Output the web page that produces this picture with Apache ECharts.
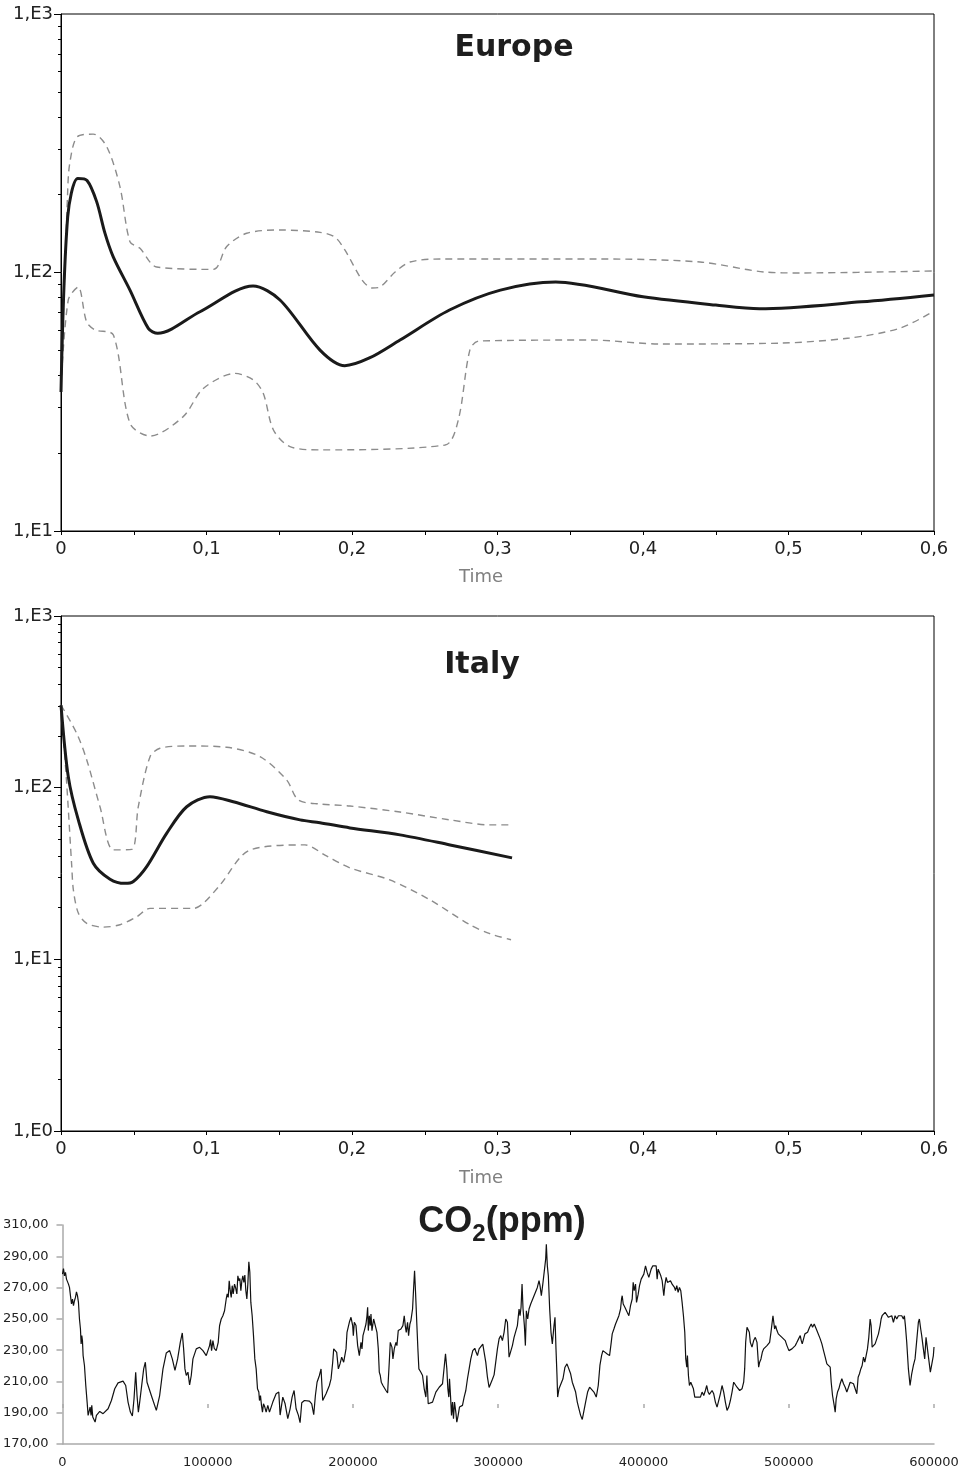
<!DOCTYPE html>
<html>
<head>
<meta charset="utf-8">
<script src="https://cdn.jsdelivr.net/npm/echarts@6/dist/echarts.min.js"></script>
<style>
  html, body { margin: 0; padding: 0; background: #fff; }
  #chart { width: 962px; height: 1472px; }
</style>
</head>
<body>
<div id="chart"></div>
<script>
// Europe: [time, value]
const europeMean = [[0,34.5],[0.0046,164],[0.0115,231],[0.0179,227],[0.0245,188],[0.0302,142],[0.0359,115],[0.0474,85.5],[0.06,60.8],[0.0665,58.2],[0.0955,70.5],[0.132,88.7],[0.1505,78.3],[0.178,50.1],[0.195,43.6],[0.212,46.7],[0.233,54.8],[0.267,71.6],[0.302,85.5],[0.34,91.9],[0.4,80.5],[0.45,74.8],[0.48,72.4],[0.55,77],[0.6,81.9]];
const europeUpper = [[0,36],[0.0045,200],[0.006,264],[0.0112,335],[0.0222,343],[0.0314,307],[0.0405,215],[0.0474,131.5],[0.0543,124],[0.0658,105],[0.1047,102.8],[0.1139,126],[0.1276,141.8],[0.1505,146],[0.178,143],[0.1883,137],[0.1952,122],[0.2069,93.6],[0.2137,87.1],[0.2192,87.9],[0.2296,100.4],[0.2399,109.8],[0.2605,112.8],[0.3704,112.8],[0.4392,109.8],[0.4838,100.4],[0.5079,99.6],[0.6,101.4]];
const europeLower = [[0,36],[0.005,78.3],[0.0118,87.9],[0.0176,64.4],[0.0234,60],[0.036,57.3],[0.0474,26.1],[0.0612,23.3],[0.084,27.7],[0.0978,35.6],[0.1196,40.7],[0.1322,38.4],[0.139,34.1],[0.146,24.6],[0.1574,21.2],[0.178,20.6],[0.264,21.5],[0.273,26.8],[0.281,50.1],[0.287,54.3],[0.364,54.8],[0.412,52.9],[0.494,53.3],[0.542,55.8],[0.577,61],[0.6,71]];

// Italy: [time, value]
const italyMean = [[0,303],[0.005,116],[0.0119,64.9],[0.0222,36.3],[0.0337,29.3],[0.044,27.7],[0.0497,28.4],[0.0589,34.7],[0.0726,54.2],[0.0864,77.4],[0.1024,88.6],[0.1184,82.8],[0.1414,72.4],[0.1643,64.9],[0.178,62.5],[0.1986,58.3],[0.233,53.1],[0.2674,46.4],[0.31,39]];
const italyUpper = [[0,303],[0.0108,207],[0.0177,145],[0.0268,77.4],[0.036,43.4],[0.0486,43.7],[0.0531,77.4],[0.0612,151.6],[0.068,169.6],[0.0864,175],[0.1139,171.9],[0.1368,151.6],[0.1551,110.9],[0.1631,84.8],[0.178,80.3],[0.1986,78.2],[0.233,72.1],[0.2674,64.9],[0.2948,60.7],[0.3093,60.7]];
const italyLower = [[0,303],[0.0039,106],[0.0074,34.7],[0.0085,25.4],[0.0119,18.6],[0.0177,16.2],[0.0291,15.4],[0.0405,15.9],[0.052,17.7],[0.0612,19.8],[0.091,19.8],[0.0978,21.2],[0.1093,27.1],[0.13,43.4],[0.1677,46.4],[0.1814,40.5],[0.1986,34.1],[0.226,29],[0.2536,22.2],[0.2811,15.9],[0.2948,14.1],[0.3093,13]];

// CO2 (ppm) against years
const co2Year = [0,687,1375,2062,2749,3437,4124,4811,5498,6186,6873,7560,8248,8935,9622,10310,10997,11684,12371,12830,13288,13746,14204,15121,16037,16953,17641,18328,19015,19703,20161,20848,21765,22452,23368,25659,27950,29096,31387,33678,35969,38260,41696,43529,45133,46736,48111,49257,50402,51318,52235,53151,55900,57046,58191,61170,64606,66897,69188,71479,73770,75603,77436,79269,81101,82476,83392,84309,85225,86371,87516,88662,89807,92098,94389,96680,98971,100346,101262,101949,102637,103553,104470,105844,107219,108135,109281,110426,111572,112717,113404,114092,114779,115466,116154,116841,117528,118445,119132,120048,120736,121423,122110,122798,123485,124172,124860,125547,126234,126921,127609,128296,128983,129671,130587,131503,132420,133336,134253,135169,135627,136314,137002,137689,138376,139293,140209,141355,142500,144791,147082,148915,149831,
151665,153268,155101,156705,158079,159454,160829,162432,163578,164723,166556,169993,171596,172971,174116,175262,176866,178011,179157,181448,183739,184884,186030,186717,187862,188779,189924,191070,192215,193590,195194,195881,197485,198630,199776,200234,200921,202067,203212,204358,205503,206190,206878,207794,208940,209627,210085,210543,211231,211918,212376,213063,214209,215354,216500,217416,218104,218791,219478,220624,222686,223831,224977,225664,226810,227497,228413,229559,230246,231163,232996,234370,235287,235974,236661,237577,238265,239181,239868,241014,241701,242388,243076,243992,244679,245366,246741,247887,249032,250178,250865,251781,253156,254760,255905,257051,258196,259342,260487,261633,262778,263695,264611,265298,265986,266444,267131,267818,268506,269193,269880,270797,271484,272400,273317,274233,275379,276524,277670,278815,279961,281106,282481,283855,284772,285688,286834,287979,289354,290270,291416,292561,293707,294852,295998,297143,298289,
299434,300579,301725,302870,304016,305161,306307,307452,308598,309743,310889,312034,313180,314325,315012,315700,316387,317074,317991,318678,319365,320282,321198,322344,323489,324635,325780,326926,328071,328758,329675,330820,331737,332653,333111,333799,334486,335402,336319,337235,338381,339068,339755,340442,340901,341817,343192,344566,345941,347315,348690,349836,350981,352356,353272,354418,355563,356709,357854,359000,360145,361520,362894,364269,365873,367476,368851,369996,371142,372058,373433,375037,376640,377786,378473,379619,380764,381910,383055,384201,384888,385346,386033,387179,388783,389928,391074,392219,392907,393594,394510,395197,396343,397259,398405,399092,400238,401383,402529,403674,405278,406423,407569,408714,409402,410089,411005,411922,412838,413984,414671,415587,416504,417420,418566,419711,420398,421315,422002,422919,423835,424751,425668,426584,427501,428417,429104,429792,430250,430937,431624,432541,433457,434373,435290,436206,437123,438039,439185,440330,441476,442621,443538,444454,445370,446058,
447204,448349,449495,450640,451786,452931,454077,455222,456368,457513,458659,459804,460950,462095,463241,464386,466219,467823,468968,469656,470343,471259,471946,472863,473550,474696,475841,476987,478132,479278,479965,480881,481798,482714,483860,485005,486151,486838,487754,488442,489129,489587,490274,490962,491878,492794,494169,495315,496460,497606,498751,500126,501042,502188,503333,504479,505624,506770,507915,508602,509290,510206,511122,512039,512955,514330,515475,516392,517537,518454,519370,520516,521661,522807,523952,525098,526243,527389,528534,529221,530138,531283,531970,532658,533574,534491,535407,536553,537698,538844,539989,541135,542280,543426,544571,545717,546862,547779,548695,549611,550528,551444,552361,553277,554193,555110,556026,556713,557401,558317,559463,560608,561754,562899,563586,564274,565190,566336,567481,568627,569772,570918,572063,573209,574354,575500,576645,577791,578936,579623,580311,581227,582373,583518,584664,585809,586955,588100,589246,589933,590849,591537,592682,593599,594515,595431,596348,597493,598639,599555,600000];
const co2Ppm = [278.6,282.2,277.5,279.7,275.4,276.4,272.2,270.1,264.8,259.5,262.6,258.4,261.6,263.7,267.3,264.8,260.5,249.9,243.5,234.0,239.3,236.1,226.5,220.2,207.4,196.8,188.3,187.2,193.6,188.3,194.7,187.2,186.2,184.0,188.3,190.8,189.4,188.3,192.5,197.8,205.3,209.1,210.2,207.4,196.8,190.4,187.9,198.9,215.9,201.0,190.4,196.8,218.0,222.3,209.5,201.0,191.5,201.0,218.0,228.2,229.7,224.4,217.0,224.4,235.0,241.0,230.8,218.0,213.8,215.9,207.8,213.8,224.4,230.8,231.8,229.7,226.5,225.5,232.9,236.7,229.7,236.1,231.2,229.7,235.0,245.6,249.9,252.0,255.2,262.7,265.9,263.7,274.4,268.0,263.7,271.2,265.9,272.2,270.1,265.9,277.5,274.4,275.8,268.0,274.4,277.5,273.3,278.0,268.0,262.7,272.2,286.5,279.7,260.5,252.0,239.3,224.4,218.0,205.3,203.2,197.8,201.0,194.7,190.4,195.7,193.6,190.4,194.7,190.4,196.8,202.1,203.2,188.5,
200.0,195.7,186.2,192.5,200.0,204.2,192.5,188.3,183.6,196.4,197.8,197.4,195.7,188.7,201.0,209.5,213.8,218.0,197.8,202.1,207.4,211.6,222.3,230.8,231.2,228.6,218.0,221.2,225.5,222.3,230.8,241.4,247.8,251.0,245.7,239.3,247.8,245.7,232.9,226.5,235.0,230.8,239.3,242.5,246.7,252.0,257.4,242.5,252.0,245.7,253.1,242.5,249.9,245.7,241.4,230.8,215.9,213.8,209.5,207.4,204.2,202.7,222.3,235.0,231.9,224.4,230.8,235.0,232.9,242.5,243.5,245.7,252.0,245.7,241.4,247.8,239.3,246.7,248.9,256.3,269.0,280.7,266.9,245.7,230.8,218.0,215.9,213.8,205.3,200.0,213.8,195.7,195.7,196.8,200.0,203.2,203.2,206.3,205.3,208.5,219.1,227.6,218.0,205.3,200.0,211.7,201.0,188.3,196.8,186.2,196.8,190.4,184.0,188.3,193.6,192.5,194.7,200.0,204.2,211.7,218.0,224.4,229.7,231.2,228.6,226.5,230.8,231.8,233.8,235.0,222.3,212.7,206.1,206.1,211.4,214.2,214.9,
230.8,237.2,239.3,236.1,241.4,249.9,247.8,225.5,226.5,232.9,238.2,239.3,245.7,256.3,252.0,257.4,272.2,256.3,245.7,232.9,255.2,249.9,256.3,259.5,260.5,264.8,265.8,270.1,274.4,271.2,264.8,273.3,272.2,288.2,297.7,283.9,277.5,256.3,241.4,234.0,245.7,251.0,230.8,213.8,200.0,205.3,205.3,211.7,219.1,221.2,220.2,214.9,209.5,208.5,203.2,196.8,192.5,188.3,185.7,186.2,196.8,203.2,206.3,205.3,203.2,200.0,207.4,220.2,226.5,229.7,228.6,227.6,226.5,235.0,240.4,243.5,246.7,245.7,252.0,256.3,262.7,264.8,259.5,257.4,254.2,252.0,258.4,262.7,273.3,268.0,272.2,260.5,265.8,271.2,275.4,276.5,278.6,283.9,279.7,276.5,281.8,283.9,285.0,283.9,275.4,281.8,280.7,277.5,274.4,264.8,271.2,276.5,273.3,273.3,274.4,272.2,273.3,270.1,268.0,271.2,266.9,270.1,268.0,260.5,252.0,241.4,224.4,219.1,226.5,213.8,207.4,209.5,208.5,205.3,200.0,201.0,200.0,201.0,200.0,203.2,201.0,204.2,207.4,203.2,201.7,201.0,
204.2,202.1,196.8,193.6,192.5,202.1,207.4,203.2,196.8,191.5,193.6,197.8,203.2,209.5,208.5,206.3,204.2,205.3,209.5,218.0,235.0,244.6,245.7,241.4,235.0,231.9,236.1,238.2,235.0,219.1,222.3,224.4,228.6,230.8,231.9,232.9,231.9,235.0,241.4,242.5,252.0,253.1,243.5,245.7,242.5,240.4,239.3,238.2,237.2,236.1,232.9,229.7,228.6,230.8,231.9,232.9,235.0,237.2,239.3,236.1,234.0,237.2,240.4,239.3,241.4,244.6,246.7,244.6,246.7,244.6,242.5,241.4,237.2,234.0,229.7,225.5,221.2,220.2,219.1,209.5,201.0,194.7,190.4,198.9,203.2,205.3,208.5,211.7,208.5,206.3,203.2,206.3,209.5,209.5,208.5,208.5,202.1,212.7,214.9,218.0,220.2,225.5,222.3,226.5,230.8,238.2,249.9,245.7,231.9,230.8,234.0,237.2,240.4,245.7,249.9,252.0,253.1,254.2,253.1,251.0,249.9,252.0,247.8,252.0,249.9,252.0,251.0,252.0,249.9,252.0,245.7,235.0,218.0,207.4,214.9,220.2,224.4,236.1,247.8,249.9,243.5,239.3,230.8,224.4,238.2,239.3,224.4,215.9,215.9,226.5,232.0];

const logMinor = [2,3,4,5,6,7,8,9,20,30,40,50,60,70,80,90,200,300,400,500,600,700,800,900];
const co2Ticks = [170, 190, 210, 230, 250, 270, 290, 310];

const FONT = 'DejaVu Sans';
const chart = echarts.init(document.getElementById('chart'));

function timeAxis(gi) {
  return {
    type: 'value', gridIndex: gi, min: 0, max: 0.6, interval: 0.1,
    axisLine: { show: true, onZero: false, lineStyle: { color: '#000', width: 1 } },
    axisTick: { show: true, length: 4, lineStyle: { color: '#000' } },
    minorTick: { show: true, splitNumber: 2, length: 4, lineStyle: { color: '#000' } },
    axisLabel: {
      fontFamily: FONT, fontSize: 18, color: '#222', margin: 9,
      formatter: v => String(+v.toFixed(1)).replace('.', ',')
    },
    splitLine: { show: false }
  };
}
function logAxis(gi, min) {
  return {
    type: 'log', logBase: 10, gridIndex: gi, min: min, max: 1000,
    axisLine: { show: true, lineStyle: { color: '#000', width: 1 } },
    axisTick: { show: true, length: 7, lineStyle: { color: '#000' } },
    axisLabel: {
      fontFamily: FONT, fontSize: 18, color: '#222', margin: 8,
      formatter: v => '1,E' + Math.round(Math.log10(v))
    },
    splitLine: { show: false }
  };
}
function minorAxis(gi, min) {
  return {
    type: 'log', logBase: 10, gridIndex: gi, min: min, max: 1000, position: 'left',
    axisLine: { show: false },
    axisTick: { show: true, length: 3, customValues: logMinor.filter(v => v > min), lineStyle: { color: '#000' } },
    axisLabel: { show: false },
    splitLine: { show: false }
  };
}
function band(data, xi, yi) {
  return {
    type: 'line', xAxisIndex: xi, yAxisIndex: yi, data: data, showSymbol: false, smooth: 0.3,
    lineStyle: { color: '#8c8c8c', width: 1.4, type: [7, 5] }
  };
}
function mean(data, xi, yi) {
  return {
    type: 'line', xAxisIndex: xi, yAxisIndex: yi, data: data, showSymbol: false, smooth: 0.3,
    lineStyle: { color: '#1a1a1a', width: 3 }, z: 3
  };
}

const option = {
  animation: false,
  backgroundColor: '#fff',
  grid: [
    { left: 61, top: 14, width: 873, height: 517, show: true, borderColor: '#000', borderWidth: 1 },
    { left: 61, top: 616, width: 873, height: 515, show: true, borderColor: '#000', borderWidth: 1 },
    { left: 61, top: 1225, width: 873, height: 219 }
  ],
  xAxis: [
    timeAxis(0),
    timeAxis(1),
    {
      type: 'value', gridIndex: 2, min: 0, max: 600000, interval: 100000,
      axisLine: { show: true, lineStyle: { color: '#aaa', width: 1.5 } },
      axisTick: { show: false },
      axisLabel: { fontFamily: FONT, fontSize: 13, color: '#222', margin: 12, formatter: v => String(v) },
      splitLine: { show: false }
    },
    {
      type: 'value', gridIndex: 2, min: 0, max: 600000, interval: 100000, position: 'bottom', offset: -40,
      axisLine: { show: false },
      axisTick: { show: true, length: 4, lineStyle: { color: '#aaa', width: 1.5 } },
      axisLabel: { show: false },
      splitLine: { show: false }
    }
  ],
  yAxis: [
    logAxis(0, 10),
    minorAxis(0, 10),
    logAxis(1, 1),
    minorAxis(1, 1),
    {
      type: 'value', gridIndex: 2, min: 170, max: 310,
      axisLine: { show: true, lineStyle: { color: '#aaa', width: 1.5 } },
      axisTick: { show: true, length: 6, customValues: co2Ticks, lineStyle: { color: '#aaa', width: 1.5 } },
      axisLabel: {
        customValues: co2Ticks, fontFamily: FONT, fontSize: 13, color: '#222', margin: 14,
        formatter: v => v.toFixed(2).replace('.', ',')
      },
      splitLine: { show: false }
    }
  ],
  series: [
    band(europeUpper, 0, 0),
    band(europeLower, 0, 0),
    mean(europeMean, 0, 0),
    band(italyUpper, 1, 2),
    band(italyLower, 1, 2),
    mean(italyMean, 1, 2),
    {
      type: 'line', xAxisIndex: 2, yAxisIndex: 4, showSymbol: false,
      data: co2Year.map((y, i) => [y, co2Ppm[i]]),
      lineStyle: { color: '#111', width: 1.2 }
    }
  ],
  graphic: [
    { type: 'text', x: 514, y: 48, style: { text: 'Europe', font: 'bold 30px "DejaVu Sans"', fill: '#1e1e1e', align: 'center', verticalAlign: 'middle' } },
    { type: 'text', x: 482, y: 665, style: { text: 'Italy', font: 'bold 30px "DejaVu Sans"', fill: '#1e1e1e', align: 'center', verticalAlign: 'middle' } },
    { type: 'text', x: 481, y: 577, style: { text: 'Time', font: '18px "DejaVu Sans"', fill: '#808080', align: 'center', verticalAlign: 'middle' } },
    { type: 'text', x: 481, y: 1178, style: { text: 'Time', font: '18px "DejaVu Sans"', fill: '#808080', align: 'center', verticalAlign: 'middle' } },
    {
      type: 'text', x: 502, y: 1222,
      style: {
        text: '{a|CO}{b|2}{a|(ppm)}', align: 'center', verticalAlign: 'middle',
        rich: {
          a: { fontFamily: 'Liberation Sans', fontWeight: 'bold', fontSize: 36, fill: '#1e1e1e', lineHeight: 40 },
          b: { fontFamily: 'Liberation Sans', fontWeight: 'bold', fontSize: 24, fill: '#1e1e1e', lineHeight: 24, verticalAlign: 'bottom', padding: [0, 0, -4, 0] }
        }
      }
    }
  ]
};
chart.setOption(option);
</script>
</body>
</html>
